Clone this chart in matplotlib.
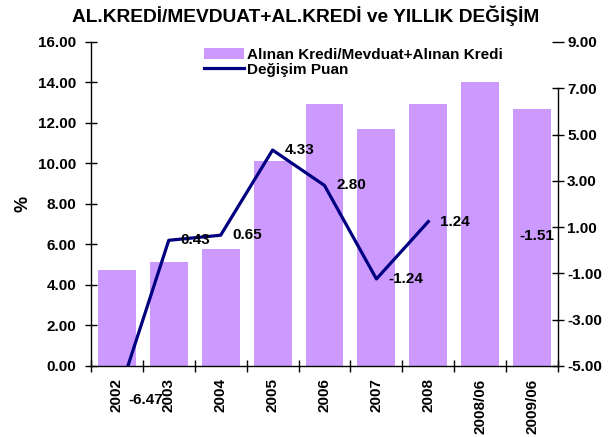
import numpy as np
import matplotlib
matplotlib.use('Agg')
import matplotlib.pyplot as plt

plt.rcParams['font.family'] = ['Liberation Sans', 'DejaVu Sans']
plt.rcParams['font.weight'] = 'bold'

# veriler
kategoriler = ['2002', '2003', '2004', '2005', '2006', '2007', '2008', '2008/06', '2009/06']
kredi_orani = [4.74, 5.14, 5.78, 10.12, 12.94, 11.70, 12.94, 14.02, 12.69]
degisim = [-6.47, 0.43, 0.65, 4.33, 2.80, -1.24, 1.24, np.nan, np.nan]
degisim_etiket = ['-6.47', '0.43', '0.65', '4.33', '2.80', '-1.24', '1.24']
son_etiket = '-1.51'

bar_renk = '#CC99FF'
cizgi_renk = '#000080'
fs = 11

fig = plt.figure(figsize=(6.14, 4.37), dpi=100)
ax = fig.add_axes([0.148, 0.1625, 0.761, 0.7415])
x = np.arange(len(kategoriler))

ax.bar(x, kredi_orani, width=0.73, color=bar_renk, label='Alınan Kredi/Mevduat+Alınan Kredi', zorder=1)
ax.set_xlim(-0.5, len(kategoriler) - 0.5)
ax.set_ylim(0, 16)
ax.set_yticks(np.arange(0, 17, 2))
ax.set_yticklabels([f'{v:.2f}' for v in np.arange(0, 17, 2)], fontsize=fs, fontweight='bold')
ax.set_ylabel('%', fontsize=13, fontweight='bold', labelpad=5)

# x ekseni: etiketler ortada, çentikler aralarda
ax.set_xticks(x)
ax.set_xticklabels(kategoriler, rotation=90, fontsize=fs, fontweight='bold')
ax.tick_params(axis='x', length=0, pad=9)
ax.set_xticks(np.arange(-0.5, len(kategoriler), 1), minor=True)
ax.tick_params(axis='x', which='minor', direction='inout', length=8, width=1)
ax.tick_params(axis='y', direction='inout', length=9, width=1, pad=6)

for s in ['top', 'right']:
    ax.spines[s].set_visible(False)
ax.spines['left'].set_linewidth(1)
ax.spines['bottom'].set_linewidth(1)

ax2 = ax.twinx()
ax2.set_ylim(-5, 9)
ax2.set_yticks(np.arange(-5, 10, 2))
ax2.set_yticklabels([f'{v:.2f}' for v in np.arange(-5, 10, 2)], fontsize=fs, fontweight='bold')
ax2.tick_params(axis='y', direction='inout', length=9, width=1, pad=2)
for s in ['top', 'left', 'bottom']:
    ax2.spines[s].set_visible(False)
ax2.spines['right'].set_bounds(-5, 7)
ax2.spines['right'].set_linewidth(1)

ax2.plot(x, degisim, color=cizgi_renk, linewidth=2.3, label='Değişim Puan', zorder=3)
for i, et in enumerate(degisim_etiket):
    ax2.text(x[i] + 0.23, degisim[i], et, ha='left', va='center', fontsize=fs,
             fontweight='bold', clip_on=False)
ax2.text(7.76, 0.62, son_etiket, ha='left', va='center', fontsize=fs, fontweight='bold')

h1, l1 = ax.get_legend_handles_labels()
h2, l2 = ax2.get_legend_handles_labels()
ax2.legend(h1 + h2, l1 + l2, loc='upper left', bbox_to_anchor=(0.23, 1.0), frameon=False,
           prop={'size': 11, 'weight': 'bold'}, handlelength=2.6, handletextpad=0.2,
           labelspacing=0.05, borderaxespad=0)

fig.text(0.497, 0.963, 'AL.KREDİ/MEVDUAT+AL.KREDİ ve YILLIK DEĞİŞİM', ha='center', va='center',
         fontsize=13.8, fontweight='bold')

fig.savefig('out.png', dpi=100)
